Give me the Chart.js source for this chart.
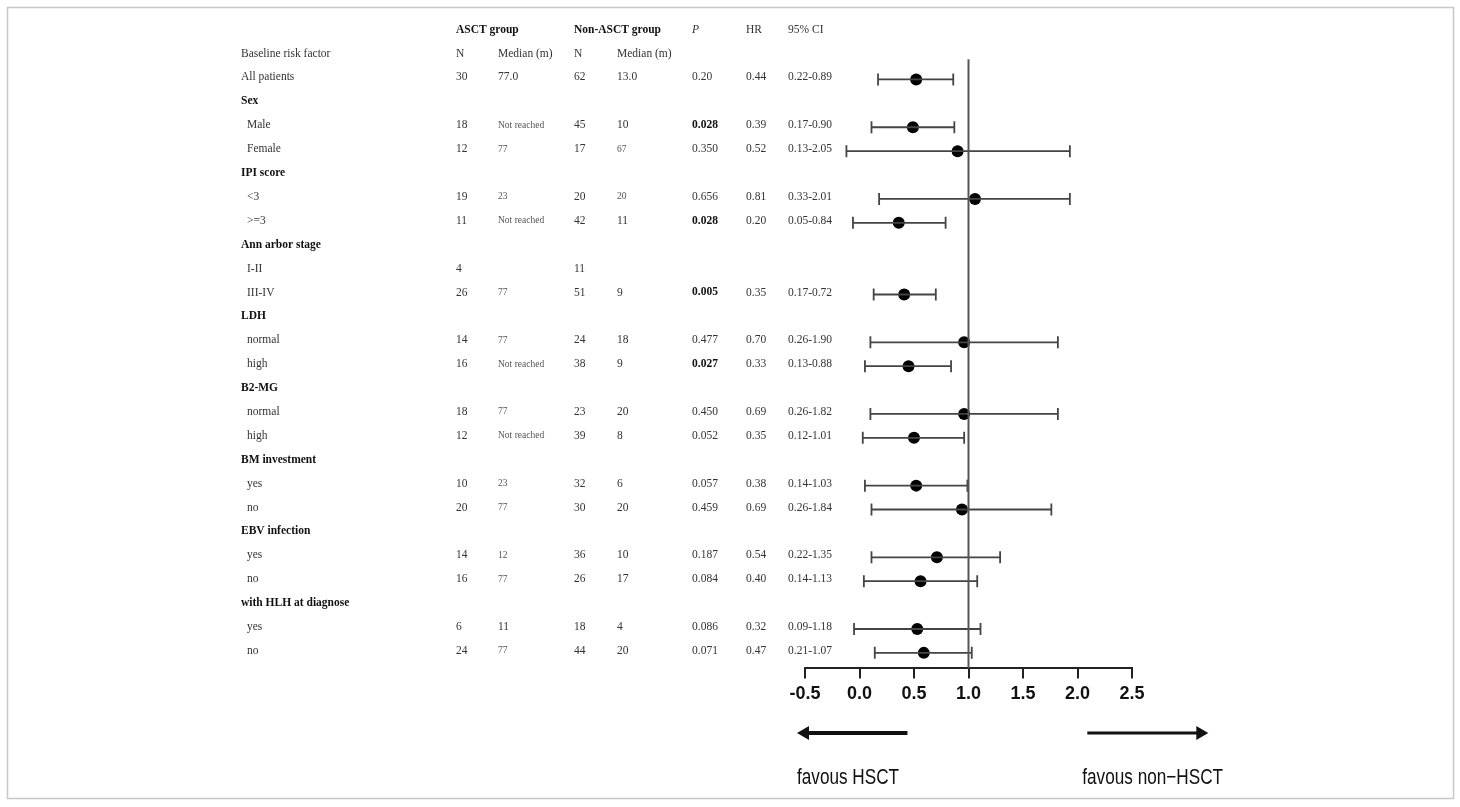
<!DOCTYPE html>
<html>
<head>
<meta charset="utf-8">
<script src="https://cdn.jsdelivr.net/npm/chart.js@4"></script>
<style>
  html, body { margin: 0; padding: 0; background: #fff; }
  #wrap { width: 1460px; height: 807px; position: relative; }
</style>
</head>
<body>
<div id="wrap"><canvas id="forest"></canvas></div>
<script>
// table rows (top to bottom)
const rowLabels = ['All patients', 'Sex', 'Male', 'Female', 'IPI score', '<3', '>=3',
  'Ann arbor stage', 'I-II', 'III-IV', 'LDH', 'normal', 'high', 'B2-MG', 'normal', 'high',
  'BM investment', 'yes', 'no', 'EBV infection', 'yes', 'no', 'with HLH at diagnose', 'yes', 'no'];
const groupRows = [1, 4, 7, 10, 13, 16, 19, 22];

const asctN      = ['30', '', '18', '12', '', '19', '11', '', '4', '26', '', '14', '16', '', '18', '12', '', '10', '20', '', '14', '16', '', '6', '24'];
const asctMedian = ['77.0', '', 'Not reached', '77', '', '23', 'Not reached', '', '', '77', '', '77', 'Not reached', '', '77', 'Not reached', '', '23', '77', '', '12', '77', '', '11', '77'];
const nonN       = ['62', '', '45', '17', '', '20', '42', '', '11', '51', '', '24', '38', '', '23', '39', '', '32', '30', '', '36', '26', '', '18', '44'];
const nonMedian  = ['13.0', '', '10', '67', '', '20', '11', '', '', '9', '', '18', '9', '', '20', '8', '', '6', '20', '', '10', '17', '', '4', '20'];
const pValues    = ['0.20', '', '0.028', '0.350', '', '0.656', '0.028', '', '', '0.005', '', '0.477', '0.027', '', '0.450', '0.052', '', '0.057', '0.459', '', '0.187', '0.084', '', '0.086', '0.071'];
const hrText     = ['0.44', '', '0.39', '0.52', '', '0.81', '0.20', '', '', '0.35', '', '0.70', '0.33', '', '0.69', '0.35', '', '0.38', '0.69', '', '0.54', '0.40', '', '0.32', '0.47'];
const ciText     = ['0.22-0.89', '', '0.17-0.90', '0.13-2.05', '', '0.33-2.01', '0.05-0.84', '', '', '0.17-0.72', '', '0.26-1.90', '0.13-0.88', '', '0.26-1.82', '0.12-1.01', '', '0.14-1.03', '0.26-1.84', '', '0.22-1.35', '0.14-1.13', '', '0.09-1.18', '0.21-1.07'];

// plotted marks as drawn in the figure
const estimate = [0.52, null, 0.49, 0.90, null, 1.06, 0.36, null, null, 0.41, null, 0.96, 0.45, null, 0.96, 0.50, null, 0.52, 0.94, null, 0.71, 0.56, null, 0.53, 0.59];
const lower    = [0.17, null, 0.11, -0.12, null, 0.18, -0.06, null, null, 0.13, null, 0.10, 0.05, null, 0.10, 0.03, null, 0.05, 0.11, null, 0.11, 0.04, null, -0.05, 0.14];
const upper    = [0.86, null, 0.87, 1.93, null, 1.93, 0.79, null, null, 0.70, null, 1.82, 0.84, null, 1.82, 0.96, null, 0.99, 1.76, null, 1.29, 1.08, null, 1.11, 1.03];

const refValue = 1.0;
const xTicks = [-0.5, 0.0, 0.5, 1.0, 1.5, 2.0, 2.5];

// formatting sets
const smallAsctMedian = [2, 3, 5, 6, 9, 11, 12, 14, 15, 17, 18, 20, 21, 24];
const smallNonMedian = [3, 5];
const boldP = [2, 6, 9, 12];

const serif = "'Liberation Serif', 'Times New Roman', serif";
const sans = "'Liberation Sans', Arial, sans-serif";
const col = { label: 241, sub: 247, n1: 456, med1: 498, n2: 574, med2: 617, p: 692, hr: 746, ci: 788 };

// whisker points, broken between rows
const whiskers = [];
estimate.forEach((v, i) => {
  if (v === null) return;
  whiskers.push({ x: lower[i], y: i }, { x: upper[i], y: i }, { x: null, y: null });
});
const points = [];
estimate.forEach((v, i) => { if (v !== null) points.push({ x: v, y: i }); });

const tablePlugin = {
  id: 'forestTable',
  beforeDraw(chart) {
    const ctx = chart.ctx;
    ctx.save();
    ctx.fillStyle = '#fff';
    ctx.fillRect(0, 0, chart.width, chart.height);
    ctx.strokeStyle = '#c8c8c8';
    ctx.lineWidth = 1.5;
    ctx.strokeRect(7.5, 7.5, 1446, 791);
    ctx.restore();
  },
  afterDraw(chart) {
    const ctx = chart.ctx;
    const ys = chart.scales.y, xs = chart.scales.x;
    const rowY = r => ys.getPixelForValue(r) - 2;
    const put = (s, x, r, size, style, color) => {
      if (!s) return;
      ctx.font = (style || '') + ' ' + size + 'px ' + serif;
      ctx.fillStyle = color || '#333';
      ctx.fillText(s, x, rowY(r));
    };
    ctx.save();
    ctx.textBaseline = 'middle';
    ctx.textAlign = 'left';

    // header rows
    put('ASCT group', col.n1, -2, 11.5, 'bold', '#111');
    put('Non-ASCT group', col.n2, -2, 11.5, 'bold', '#111');
    put('P', col.p, -2, 11.5, 'italic', '#333');
    put('HR', col.hr, -2, 11.5, '', '#333');
    put('95% CI', col.ci, -2, 11.5, '', '#333');
    put('Baseline risk factor', col.label, -1, 11.5, '', '#333');
    put('N', col.n1, -1, 11.5, '', '#333');
    put('Median (m)', col.med1, -1, 11.5, '', '#333');
    put('N', col.n2, -1, 11.5, '', '#333');
    put('Median (m)', col.med2, -1, 11.5, '', '#333');

    rowLabels.forEach((lab, i) => {
      const isGroup = groupRows.includes(i);
      if (isGroup) put(lab, col.label, i, 11.5, 'bold', '#111');
      else put(lab, i === 0 ? col.label : col.sub, i, 11.5, '', '#333');
      put(asctN[i], col.n1, i, 11.5);
      if (smallAsctMedian.includes(i)) put(asctMedian[i], col.med1, i, 9.5, '', '#555');
      else put(asctMedian[i], col.med1, i, 11.5);
      put(nonN[i], col.n2, i, 11.5);
      if (smallNonMedian.includes(i)) put(nonMedian[i], col.med2, i, 9.5, '', '#555');
      else put(nonMedian[i], col.med2, i, 11.5);
      put(pValues[i], col.p, i, 11.5, boldP.includes(i) ? 'bold' : '', boldP.includes(i) ? '#111' : '#333');
      put(hrText[i], col.hr, i, 11.5);
      put(ciText[i], col.ci, i, 11.5);
    });

    // direction arrows
    const ay = 733;
    const l0 = xs.getPixelForValue(-0.5) - 8, l1 = xs.getPixelForValue(0.44);
    const r0 = xs.getPixelForValue(2.09), r1 = xs.getPixelForValue(3.2);
    ctx.fillStyle = '#111';
    ctx.strokeStyle = '#111';
    ctx.lineWidth = 4;
    ctx.beginPath(); ctx.moveTo(l0 + 8, ay); ctx.lineTo(l1, ay); ctx.stroke();
    ctx.beginPath(); ctx.moveTo(l0, ay); ctx.lineTo(l0 + 12, ay - 7); ctx.lineTo(l0 + 12, ay + 7); ctx.closePath(); ctx.fill();
    ctx.lineWidth = 3;
    ctx.beginPath(); ctx.moveTo(r0, ay); ctx.lineTo(r1 - 8, ay); ctx.stroke();
    ctx.beginPath(); ctx.moveTo(r1, ay); ctx.lineTo(r1 - 12, ay - 7); ctx.lineTo(r1 - 12, ay + 7); ctx.closePath(); ctx.fill();

    // direction labels (condensed like the source)
    ctx.font = '22px ' + sans;
    ctx.fillStyle = '#111';
    [['favous HSCT', l0], ['favous non\u2212HSCT', r0 - 5]].forEach(([t, x]) => {
      ctx.save();
      ctx.translate(x, 778);
      ctx.scale(0.78, 1);
      ctx.fillText(t, 0, 0);
      ctx.restore();
    });
    ctx.restore();
  }
};

new Chart(document.getElementById('forest'), {
  type: 'scatter',
  data: {
    datasets: [
      {
        label: 'reference',
        data: [{ x: refValue, y: -0.85 }, { x: refValue, y: 24.65 }],
        showLine: true,
        borderColor: '#555',
        borderWidth: 2,
        pointRadius: 0
      },
      {
        label: '95% CI',
        data: whiskers,
        showLine: true,
        spanGaps: false,
        borderColor: '#444',
        borderWidth: 1.8,
        pointStyle: 'line',
        rotation: 90,
        pointRadius: 6,
        pointBorderWidth: 1.8,
        pointBorderColor: '#444'
      },
      {
        label: 'HR',
        data: points,
        pointRadius: 6,
        backgroundColor: '#000',
        borderColor: '#000',
        borderWidth: 0
      }
    ]
  },
  options: {
    responsive: true,
    maintainAspectRatio: false,
    animation: false,
    layout: { padding: { top: 7, left: 805, right: 328, bottom: 97 } },
    scales: {
      x: {
        type: 'linear',
        min: -0.5,
        max: 2.5,
        afterBuildTicks: axis => { axis.ticks = xTicks.map(v => ({ value: v })); },
        ticks: {
          callback: v => Number(v).toFixed(1),
          font: { family: sans, size: 18, weight: 'bold' },
          color: '#111',
          padding: 5
        },
        grid: { drawOnChartArea: false, tickLength: 10, color: '#222', lineWidth: 2 },
        border: { color: '#222', width: 2 }
      },
      y: {
        type: 'linear',
        reverse: true,
        min: -3,
        max: 24.65,
        display: false
      }
    },
    plugins: {
      legend: { display: false },
      tooltip: { enabled: false }
    }
  },
  plugins: [tablePlugin]
});
</script>
</body>
</html>
